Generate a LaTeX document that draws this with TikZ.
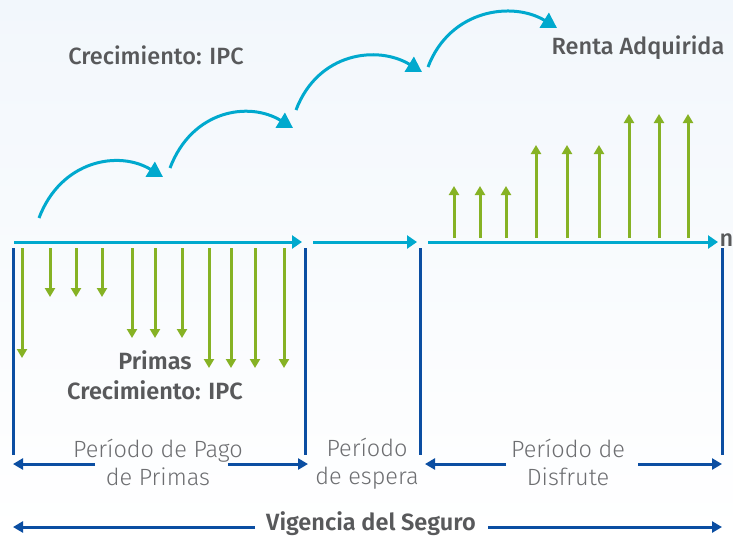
\documentclass[tikz,border=0pt]{standalone}
\usepackage{fontspec}
\setmainfont{Fira Sans}
\newfontfamily\firalight{Fira Sans Light}
\newfontfamily\firamed{Fira Sans Medium}
\newfontfamily\firasemi{Fira Sans SemiBold}
\usetikzlibrary{arrows.meta}
\definecolor{cyanA}{HTML}{00A9CE}
\definecolor{greenA}{HTML}{86B224}
\definecolor{navyA}{HTML}{0B4EA2}
\definecolor{txt}{HTML}{58595B}
\definecolor{txtl}{HTML}{6D6E71}
\definecolor{bgtop}{HTML}{F2F7FC}
\begin{document}
\begin{tikzpicture}[x=1pt,y=-1pt,
  tl/.style={cyanA,line width=3pt,-{Triangle[length=10pt,width=13pt]}},
  jump/.style={cyanA,line width=3pt,-{Triangle[length=15pt,width=17pt]}},
  pay/.style={greenA,line width=3pt,-{Triangle[length=9pt,width=10pt]}},
  bound/.style={navyA,line width=3pt},
  span/.style={navyA,line width=3pt,-{Triangle[length=10pt,width=11pt]}},
  lbl/.style={txt,inner sep=0pt,font=\fontsize{23.5}{26}\firamed},
  blbl/.style={txt,inner sep=0pt,font=\fontsize{23.5}{26}\firasemi},
  per/.style={txtl,inner sep=0pt,align=center,font=\fontsize{23.5}{28}\firalight}]
\shade[top color=bgtop,bottom color=white] (0,0) rectangle (733,536);
\useasboundingbox (0,0) rectangle (733,536);
% timeline
\coordinate (t1s) at (14,242); \coordinate (t1e) at (302,242);
\coordinate (t2s) at (313,242); \coordinate (t2e) at (417,242);
\coordinate (t3s) at (428,242); \coordinate (t3e) at (718,242);
\draw[tl] (t1s) -- (t1e);
\draw[tl] (t2s) -- (t2e);
\draw[tl] (t3s) -- (t3e);
\node[lbl,anchor=west] (n) at (719.5,240) {n};
% jumps
\coordinate (j1s) at (39,218); \coordinate (j1e) at (163,177);
\coordinate (j2s) at (170,168); \coordinate (j2e) at (293,128);
\coordinate (j3s) at (296,110); \coordinate (j3e) at (422,72);
\coordinate (j4s) at (428,67); \coordinate (j4e) at (557,28);
\draw[jump] (j1s) .. controls (61,160) and (119,150) .. (j1e);
\draw[jump] (j2s) .. controls (192,110) and (249,101) .. (j2e);
\draw[jump] (j3s) .. controls (318,52) and (378,45) .. (j3e);
\draw[jump] (j4s) .. controls (450,9) and (513,1) .. (j4e);
% premiums
\foreach \x/\y [count=\i] in {22/358,50/297,76/297,102/297,132/338,155/338,182/338,209/368,231/368,255/368,284/368}{
  \coordinate (p\i s) at (\x,248); \coordinate (p\i e) at (\x,\y);
  \draw[pay] (p\i s) -- (p\i e);
}
% annuity
\foreach \x/\y [count=\i] in {454/186,480/186,506/186,536/145,567/145,599/145,629/114,659/114,688/114}{
  \coordinate (r\i s) at (\x,238); \coordinate (r\i e) at (\x,\y);
  \draw[pay] (r\i s) -- (r\i e);
}
% boundaries
\foreach \x [count=\i] in {13,305,420,722}{
  \coordinate (b\i t) at (\x,248); \coordinate (b\i b) at (\x,455);
  \draw[bound] (b\i t) -- (b\i b);
}
% labels
\node[lbl] (crec1) at (156,55) {Crecimiento: IPC};
\node[lbl] (renta) at (638,48) {Renta Adquirida};
\node[blbl] (primas) at (155,360) {Primas};
\node[blbl] (crec2) at (155,390) {Crecimiento: IPC};
\node[per] (pago) at (158,462) {Período de Pago\\de Primas};
\node[per] (espera) at (367,464) {Período\\de espera};
\node[per] (disf) at (568,462) {Período de\\Disfrute};
\node[blbl] (vig) at (371,524) {Vigencia del Seguro};
% spans
\coordinate (pa1) at (95,464); \coordinate (pa2) at (13,464);
\coordinate (pa3) at (228,464); \coordinate (pa4) at (308,464);
\coordinate (di1) at (506,464); \coordinate (di2) at (425,464);
\coordinate (di3) at (638,464); \coordinate (di4) at (722,464);
\coordinate (vi1) at (255,527); \coordinate (vi2) at (13,527);
\coordinate (vi3) at (488,527); \coordinate (vi4) at (722,527);
\draw[span] (pa1) -- (pa2);
\draw[span] (pa3) -- (pa4);
\draw[span] (di1) -- (di2);
\draw[span] (di3) -- (di4);
\draw[span] (vi1) -- (vi2);
\draw[span] (vi3) -- (vi4);
\end{tikzpicture}
\end{document}
